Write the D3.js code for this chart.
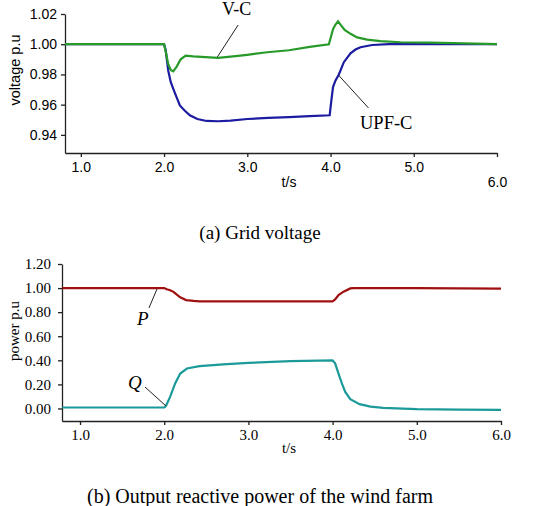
<!DOCTYPE html>
<html>
<head>
<meta charset="utf-8">
<script src="https://cdn.jsdelivr.net/npm/d3@7"></script>
<style>
  body { margin: 0; background: #fff; }
  .sans text { font-family: "Liberation Sans", Arial, sans-serif; }
  .serif text { font-family: "Liberation Serif", "Times New Roman", serif; }
</style>
</head>
<body>
<div id="chart"></div>
<script>
// (a) grid voltage
var vcTime  = [0.81, 2.0, 2.02, 2.05, 2.08, 2.11, 2.15, 2.2, 2.26, 2.35, 2.5, 2.65, 2.8, 3.0, 3.24, 3.5, 3.75, 3.98, 4.0, 4.03, 4.06, 4.09, 4.12, 4.17, 4.24, 4.32, 4.44, 4.6, 4.84, 5.2, 5.6, 6.0];
var vcVolt  = [1.000, 1.000, 0.995, 0.987, 0.983, 0.982, 0.985, 0.990, 0.9925, 0.992, 0.9915, 0.991, 0.9918, 0.993, 0.9947, 0.996, 0.9982, 1.000, 1.004, 1.010, 1.013, 1.0152, 1.013, 1.0095, 1.0069, 1.0045, 1.003, 1.002, 1.0013, 1.001, 1.0005, 1.000];
var upfTime = [0.81, 2.0, 2.02, 2.05, 2.08, 2.11, 2.15, 2.19, 2.25, 2.31, 2.4, 2.51, 2.65, 2.8, 3.0, 3.25, 3.5, 3.75, 3.99, 4.01, 4.03, 4.06, 4.1, 4.16, 4.24, 4.3, 4.36, 4.5, 4.7, 5.0, 6.0];
var upfVolt = [1.000, 1.000, 0.996, 0.9826, 0.975, 0.9706, 0.965, 0.9595, 0.956, 0.953, 0.9505, 0.9492, 0.949, 0.9494, 0.9505, 0.9512, 0.9518, 0.9524, 0.953, 0.9628, 0.9716, 0.976, 0.980, 0.9881, 0.994, 0.9965, 0.998, 0.9995, 1.000, 1.000, 1.000];

// (b) output power of the wind farm
var pTime = [0.79, 2.0, 2.03, 2.07, 2.11, 2.15, 2.19, 2.26, 2.35, 2.42, 3.0, 3.5, 4.0, 4.03, 4.07, 4.13, 4.21, 4.25, 5.0, 6.0];
var pVal  = [1.0, 1.0, 0.99, 0.982, 0.969, 0.945, 0.923, 0.90, 0.893, 0.89, 0.89, 0.89, 0.89, 0.905, 0.942, 0.97, 0.997, 1.0, 1.0, 0.995];
var qTime = [0.79, 2.0, 2.02, 2.07, 2.13, 2.19, 2.27, 2.42, 2.7, 3.0, 3.5, 4.0, 4.03, 4.07, 4.11, 4.15, 4.21, 4.32, 4.45, 4.6, 5.0, 5.5, 6.0];
var qVal  = [0.008, 0.008, 0.02, 0.096, 0.208, 0.29, 0.332, 0.352, 0.366, 0.379, 0.393, 0.399, 0.375, 0.29, 0.208, 0.138, 0.077, 0.036, 0.015, 0.005, -0.006, -0.01, -0.012];

var xTicks = [1, 2, 3, 4, 5, 6];
var vTicks = [0.94, 0.96, 0.98, 1.00, 1.02];
var pTicks = [0, 0.2, 0.4, 0.6, 0.8, 1.0, 1.2];

var svg = d3.select("#chart").append("svg")
    .attr("width", 547)
    .attr("height", 506);

function zip(t, v) { return t.map(function(d, i) { return [d, v[i]]; }); }

/* ---------- (a) grid voltage ---------- */
var xa = d3.scaleLinear().domain([0.81, 6.0]).range([65, 497]);
var ya = d3.scaleLinear().domain([0.928, 1.02]).range([153, 14]);

var ga = svg.append("g").attr("class", "sans");

var xAxisA = ga.append("g")
    .attr("transform", "translate(0,153)")
    .call(d3.axisBottom(xa).tickValues(xTicks).tickFormat(d3.format(".1f")).tickSize(4).tickSizeOuter(0).tickPadding(5));
xAxisA.selectAll("text")
    .style("font-size", "14px")
    .attr("dy", function(d) { return d === 6 ? "1.75em" : "0.71em"; });

ga.append("g")
    .attr("transform", "translate(65,0)")
    .call(d3.axisLeft(ya).tickValues(vTicks).tickFormat(d3.format(".2f")).tickSize(4).tickSizeOuter(0).tickPadding(4))
    .selectAll("text").style("font-size", "14px");

ga.selectAll(".domain, .tick line").attr("stroke", "#222").attr("stroke-width", 1.3);

ga.append("text")
    .attr("x", 289).attr("y", 187)
    .attr("text-anchor", "middle")
    .style("font-size", "14px")
    .text("t/s");

ga.append("text")
    .attr("transform", "translate(20,70) rotate(-90)")
    .attr("text-anchor", "middle")
    .style("font-size", "14.5px")
    .text("voltage p.u");

var lineA = d3.line().x(function(d) { return xa(d[0]); }).y(function(d) { return ya(d[1]); });

ga.append("path").datum(zip(upfTime, upfVolt))
    .attr("d", lineA).attr("fill", "none")
    .attr("stroke", "#1c1ca0").attr("stroke-width", 2.2);
ga.append("path").datum(zip(vcTime, vcVolt))
    .attr("d", lineA).attr("fill", "none")
    .attr("stroke", "#279a2a").attr("stroke-width", 2.2);

// leader lines + series names
ga.append("line")
    .attr("x1", xa(2.89)).attr("y1", ya(1.0127))
    .attr("x2", xa(2.64)).attr("y2", ya(0.9915))
    .attr("stroke", "#222").attr("stroke-width", 1);
ga.append("line")
    .attr("x1", xa(4.095)).attr("y1", ya(0.9796))
    .attr("x2", xa(4.456)).attr("y2", ya(0.9578))
    .attr("stroke", "#222").attr("stroke-width", 1);

var la = svg.append("g").attr("class", "serif");
la.append("text").attr("x", 222).attr("y", 15).style("font-size", "18px").text("V-C");
la.append("text").attr("x", 360).attr("y", 129).style("font-size", "18.5px").text("UPF-C");
la.append("text").attr("x", 260).attr("y", 239).attr("text-anchor", "middle")
    .style("font-size", "19px").text("(a) Grid voltage");

/* ---------- (b) output power ---------- */
var xb = d3.scaleLinear().domain([0.786, 6.0]).range([62, 501]);
var yb = d3.scaleLinear().domain([-0.104, 1.2]).range([421, 264]);

var gb = svg.append("g").attr("class", "serif");

gb.append("g")
    .attr("transform", "translate(0,421)")
    .call(d3.axisBottom(xb).tickValues(xTicks).tickFormat(d3.format(".1f")).tickSize(4).tickSizeOuter(0).tickPadding(4))
    .selectAll("text").style("font-size", "15px");

gb.append("g")
    .attr("transform", "translate(62,0)")
    .call(d3.axisLeft(yb).tickValues(pTicks).tickFormat(d3.format(".2f")).tickSize(4).tickSizeOuter(0).tickPadding(7))
    .selectAll("text").style("font-size", "15px");

gb.selectAll(".domain, .tick line").attr("stroke", "#222").attr("stroke-width", 1.3);

gb.append("text")
    .attr("x", 289).attr("y", 453)
    .attr("text-anchor", "middle")
    .style("font-size", "15px")
    .text("t/s");

gb.append("text")
    .attr("transform", "translate(19,331) rotate(-90)")
    .attr("text-anchor", "middle")
    .style("font-size", "15px")
    .text("power p.u");

var lineB = d3.line().x(function(d) { return xb(d[0]); }).y(function(d) { return yb(d[1]); });

gb.append("path").datum(zip(pTime, pVal))
    .attr("d", lineB).attr("fill", "none")
    .attr("stroke", "#a01010").attr("stroke-width", 2.2);
gb.append("path").datum(zip(qTime, qVal))
    .attr("d", lineB).attr("fill", "none")
    .attr("stroke", "#1c9a9a").attr("stroke-width", 2.2);

gb.append("line")
    .attr("x1", xb(1.914)).attr("y1", yb(0.992))
    .attr("x2", xb(1.819)).attr("y2", yb(0.835))
    .attr("stroke", "#222").attr("stroke-width", 1);
gb.append("line")
    .attr("x1", xb(1.772)).attr("y1", yb(0.178))
    .attr("x2", xb(2.021)).attr("y2", yb(0.021))
    .attr("stroke", "#222").attr("stroke-width", 1);

gb.append("text").attr("x", 137).attr("y", 325)
    .style("font-size", "19px").style("font-style", "italic").text("P");
gb.append("text").attr("x", 128).attr("y", 389)
    .style("font-size", "19px").style("font-style", "italic").text("Q");

gb.append("text").attr("x", 260).attr("y", 503).attr("text-anchor", "middle")
    .style("font-size", "20px").text("(b) Output reactive power of the wind farm");
</script>
</body>
</html>
